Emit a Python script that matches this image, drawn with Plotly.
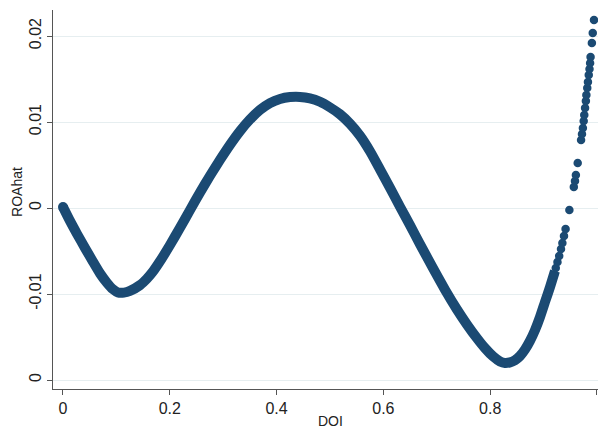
import plotly.graph_objects as go

# Fitted ROA values along DOI (dense region of the sample)
doi_dense = [0.0000, 0.0131, 0.0262, 0.0412, 0.0562, 0.0693, 0.0824, 0.0936, 0.1030,
             0.1142, 0.1255, 0.1442, 0.1573, 0.1685, 0.1816, 0.2004, 0.2191, 0.2378,
             0.2566, 0.2753, 0.2940, 0.3127, 0.3315, 0.3502, 0.3689, 0.3876, 0.4064,
             0.4251, 0.4438, 0.4625, 0.4813, 0.5000, 0.5187, 0.5375, 0.5562, 0.5749,
             0.5936, 0.6124, 0.6311, 0.6498, 0.6685, 0.6929, 0.7154, 0.7378, 0.7566,
             0.7753, 0.7903, 0.8052, 0.8184, 0.8277, 0.8371, 0.8464, 0.8558, 0.8652,
             0.8745, 0.8839, 0.8933, 0.9026, 0.9120, 0.9213]
roa_dense = [0.00012, -0.00150, -0.00300, -0.00465, -0.00625, -0.00760, -0.00870, -0.00945,
             -0.00982, -0.00984, -0.00964, -0.00897, -0.00821, -0.00739, -0.00620, -0.00430,
             -0.00230, -0.00025, 0.00180, 0.00375, 0.00560, 0.00735, 0.00895, 0.01030,
             0.01140, 0.01220, 0.01268, 0.01290, 0.01292, 0.01275, 0.01235, 0.01170,
             0.01090, 0.00980, 0.00840, 0.00660, 0.00450, 0.00235, 0.00015, -0.00200,
             -0.00420, -0.00700, -0.00950, -0.01180, -0.01355, -0.01515, -0.01630, -0.01725,
             -0.01785, -0.01802, -0.01795, -0.01770, -0.01721, -0.01645, -0.01545, -0.01420,
             -0.01267, -0.01093, -0.00920, -0.00733]

# Sparse observations near DOI = 1
doi_sparse = [0.9195, 0.9228, 0.9260, 0.9292, 0.9326, 0.9352, 0.9382, 0.9412, 0.9483,
              0.9566, 0.9588, 0.9605, 0.9639, 0.9702, 0.9719, 0.9736, 0.9751, 0.9762,
              0.9777, 0.9792, 0.9801, 0.9818, 0.9831, 0.9846, 0.9860, 0.9871, 0.9880,
              0.9904, 0.9921, 0.9944]
roa_sparse = [-0.00779, -0.00698, -0.00628, -0.00558, -0.00477, -0.00407, -0.00326, -0.00244,
              -0.00023, 0.00244, 0.00314, 0.00384, 0.00523, 0.00791, 0.00860, 0.00930,
              0.01012, 0.01081, 0.01163, 0.01244, 0.01314, 0.01395, 0.01465, 0.01547,
              0.01616, 0.01686, 0.01756, 0.01919, 0.02035, 0.02186]

x_ticks = [0, 0.2, 0.4, 0.6, 0.8, 1]
x_tick_text = ["0", "0.2", "0.4", "0.6", "0.8", "1"]
y_ticks = [-0.02, -0.01, 0, 0.01, 0.02]
y_tick_text = ["0", "-0.01", "0", "0.01", "0.02"]

navy = "#1b4a73"
font = dict(family="Liberation Sans, Arial, sans-serif", size=16, color="#222222")

fig = go.Figure()
# Dense band of fitted values drawn as a thick smooth stroke
fig.add_trace(go.Scatter(
    x=doi_dense, y=roa_dense, mode="lines",
    line=dict(color=navy, width=10, shape="spline", smoothing=0.6),
    hoverinfo="skip", showlegend=False,
))
# Round cap at the first observation
fig.add_trace(go.Scatter(
    x=doi_dense[:1], y=roa_dense[:1], mode="markers",
    marker=dict(color=navy, size=10),
    hoverinfo="skip", showlegend=False,
))
fig.add_trace(go.Scatter(
    x=doi_sparse, y=roa_sparse, mode="markers",
    marker=dict(color=navy, size=8.5),
    hoverinfo="skip", showlegend=False,
))

fig.update_layout(
    template="none",
    width=598, height=430,
    margin=dict(l=53, r=0, t=10, b=41),
    paper_bgcolor="white", plot_bgcolor="white",
    font=font,
    showlegend=False,
    annotations=[
        dict(text="ROAhat", textangle=-90, xref="paper", yref="paper",
             x=-0.066, y=0.52, xanchor="center", yanchor="middle",
             showarrow=False, font=dict(size=14, color="#222222")),
        dict(text="DOI", xref="paper", yref="paper", x=0.51, y=-0.084,
             xanchor="center", yanchor="middle",
             showarrow=False, font=dict(size=14, color="#222222")),
    ],
)
fig.update_xaxes(
    range=[-0.0187, 1.0019], tickvals=x_ticks, ticktext=x_tick_text,
    showline=True, linecolor="#555555", linewidth=1,
    ticks="outside", ticklen=5, tickcolor="#555555", tickwidth=1,
    showgrid=False, zeroline=False, automargin=False,
)
fig.update_yaxes(
    range=[-0.021047, 0.023023], tickvals=y_ticks, ticktext=y_tick_text,
    tickangle=-90,
    showline=True, linecolor="#555555", linewidth=1,
    ticks="outside", ticklen=5, tickcolor="#555555", tickwidth=1,
    showgrid=True, gridcolor="#e6eef0", gridwidth=1, zeroline=False, automargin=False,
)

fig.write_html("out.html")
